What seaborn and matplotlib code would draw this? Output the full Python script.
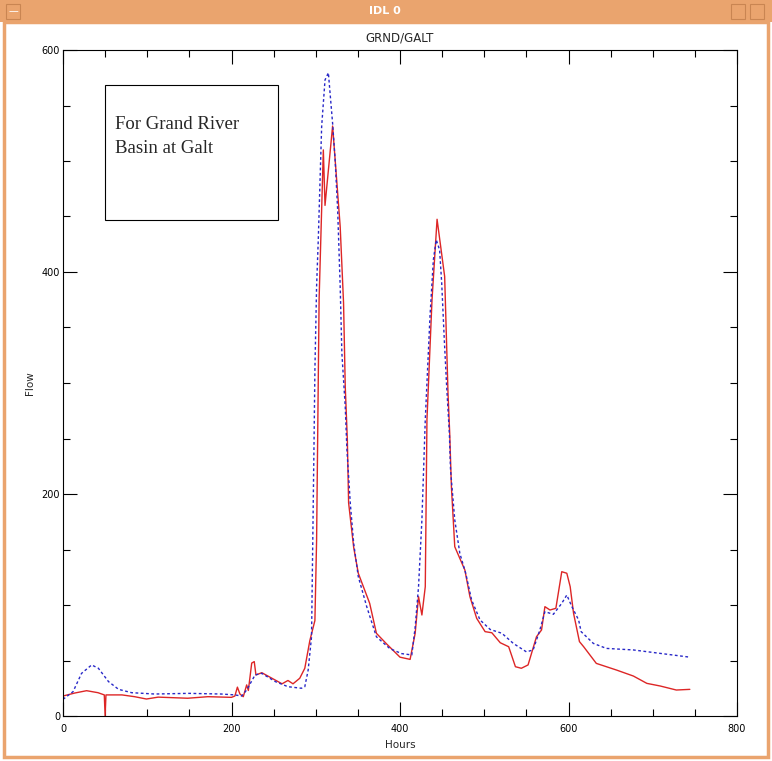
import numpy as np
import pandas as pd
import matplotlib
matplotlib.use("Agg")
import matplotlib.pyplot as plt
import seaborn as sns
from matplotlib.patches import Rectangle
from matplotlib.ticker import MultipleLocator

# observed flow (red, solid)
hours_obs = [0, 14, 28, 41.5, 49, 50, 51, 70, 85, 99, 113, 148, 172, 200, 204, 207, 210, 214, 218, 220,
             224, 227, 229, 236, 248, 260, 267, 273, 281, 287, 293, 299, 301, 304, 309, 311, 320, 329,
             333, 335, 337.5, 339, 345, 350.5, 364, 372, 384, 400, 412, 418, 422, 426, 430, 432, 438,
             444, 453, 457, 459, 461, 465, 477, 483, 491, 501, 509, 519, 529, 537, 544, 552, 562, 568,
             572, 578, 585, 592, 598, 602, 606, 613, 618, 633, 657, 677, 693, 709, 728, 744]
flow_obs = [18, 20.7, 22.8, 21, 19, 0, 19, 19, 17.4, 15.3, 17, 16, 17.4, 16.8, 18, 26, 19.8, 17.4, 28, 23,
            47.7, 49, 37, 39, 34, 29, 32, 29, 34, 43, 68, 86, 158, 376, 510, 460, 531.5, 441,
            372, 297, 249, 192, 152, 128.6, 101.5, 74.5, 65, 53, 51, 74.5, 107.5, 91, 116.5, 267, 375,
            447.5, 396, 290.6, 254.6, 206.6, 152.5, 131.5, 107.5, 88, 76, 75, 66, 62.4, 44.4, 43, 46, 71.4, 77.5,
            98.5, 95.5, 97, 130, 128.6, 116.5, 92.5, 67, 62.4, 47.4, 41.4, 36, 29.4, 27, 23.4, 24]

# simulated flow (blue, dashed)
hours_sim = [0, 12, 22, 34, 42, 54, 66, 81.5, 109, 149, 188, 204, 212, 218, 228, 236, 252, 267, 283, 287,
             291, 295, 298, 299, 301, 303, 307, 311, 315, 317, 320, 323, 326, 329, 331, 335, 337, 341,
             345, 350.5, 360.5, 372, 388, 402, 414, 418, 422, 426, 430, 435.6, 439.6, 443, 447, 449.5,
             452.6, 455.4, 458.6, 460, 465, 471, 478, 485, 495, 507, 521, 534.5, 550, 558, 566, 572,
             582, 592, 598, 604, 612, 615, 629.5, 645, 677, 709, 744]
flow_sim = [15, 22, 38.4, 46, 43, 31, 24, 21, 19.8, 20.4, 19.8, 19, 18, 23.4, 37, 38.4, 31, 26.4, 25, 26.4,
            41.4, 71.4, 249, 312, 387, 429, 531, 573, 579.5, 561, 534, 501, 456, 387, 327, 278.6, 240, 191.6,
            155.6, 125.5, 98.5, 71.4, 60.7, 56.2, 55, 80, 116.5, 176.6, 267, 360, 411, 429, 420, 390,
            338.7, 296.7, 254.6, 221.6, 176.6, 146.6, 128.6, 104.5, 86.5, 78, 74.5, 65.4, 57.8, 59.5, 77.5, 94,
            91.6, 101.5, 109, 98.5, 86.5, 76, 65.4, 60.9, 59.5, 56.4, 53]

obs = pd.DataFrame({"Hours": hours_obs, "Flow": flow_obs})
sim = pd.DataFrame({"Hours": hours_sim, "Flow": flow_sim})

sns.set_style("white")
plt.rcParams["font.family"] = ["DejaVu Sans"]

fig = plt.figure(figsize=(7.72, 7.61), dpi=100)
fig.patch.set_facecolor("white")

# window frame of the IDL graphics window
frame = "#eaa46e"
fig.patches.append(Rectangle((0, 1 - 22 / 761), 1, 22 / 761, transform=fig.transFigure,
                             facecolor=frame, edgecolor="none", zorder=0))
fig.patches.append(Rectangle((4 / 772, 4 / 761), 1 - 8 / 772, 1 - 26 / 761, transform=fig.transFigure,
                             facecolor="none", edgecolor=frame, linewidth=2.5, zorder=0))
fig.patches.append(Rectangle((6 / 772, 1 - 19 / 761), 14 / 772, 15 / 761, transform=fig.transFigure,
                             facecolor=frame, edgecolor="#c98552", linewidth=0.8))
fig.patches.append(Rectangle((731 / 772, 1 - 19 / 761), 14 / 772, 15 / 761, transform=fig.transFigure,
                             facecolor=frame, edgecolor="#c98552", linewidth=0.8))
fig.patches.append(Rectangle((750 / 772, 1 - 19 / 761), 14 / 772, 15 / 761, transform=fig.transFigure,
                             facecolor=frame, edgecolor="#c98552", linewidth=0.8))
fig.text(13 / 772, 1 - 11 / 761, "—", color="white", fontsize=7, ha="center", va="center")
fig.text(385 / 772, 1 - 11 / 761, "IDL 0", color="white", fontsize=8, fontweight="bold",
         ha="center", va="center")

ax = fig.add_axes([63 / 772, 1 - 716 / 761, 674 / 772, 666 / 761])

sns.lineplot(data=obs, x="Hours", y="Flow", ax=ax, color="#dd2626", linewidth=1.0,
             estimator=None, sort=False)
sns.lineplot(data=sim, x="Hours", y="Flow", ax=ax, color="#2828c8", linewidth=1.0,
             linestyle=(0, (2.0, 1.8)), estimator=None, sort=False)

ax.set_xlim(0, 800)
ax.set_ylim(0, 600)
ax.xaxis.set_major_locator(MultipleLocator(200))
ax.xaxis.set_minor_locator(MultipleLocator(50))
ax.yaxis.set_major_locator(MultipleLocator(200))
ax.yaxis.set_minor_locator(MultipleLocator(50))
ax.tick_params(which="both", direction="in", top=True, right=True, bottom=True, left=True,
               colors="black", labelsize=7, width=0.8)
ax.tick_params(which="major", length=10)
ax.tick_params(which="minor", length=5)
ax.tick_params(axis="x", which="major", pad=6)
ax.tick_params(axis="y", which="major", pad=2)
for s in ax.spines.values():
    s.set_color("black")
    s.set_linewidth(0.8)

ax.set_xlabel("Hours", fontsize=7.5, labelpad=4)
ax.set_ylabel("Flow", fontsize=7.5, labelpad=5)
ax.set_title("GRND/GALT", fontsize=8.5, pad=6)

ax.add_patch(Rectangle((0.0623, 0.745), 0.257, 0.202, transform=ax.transAxes,
                       facecolor="none", edgecolor="black", linewidth=0.8))
ax.text(0.077, 0.87, "For Grand River\nBasin at Galt", transform=ax.transAxes,
        family=["Liberation Serif"], fontsize=13.5, va="center", ha="left", linespacing=1.6)

fig.savefig("out.png", dpi=100)
